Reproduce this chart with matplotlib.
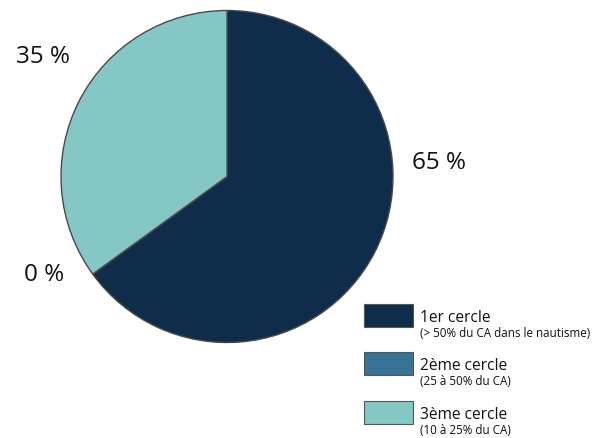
import matplotlib.pyplot as plt
from matplotlib.patches import Rectangle

plt.rcParams['font.family'] = ['Open Sans', 'DejaVu Sans']

categories = ['1er cercle', '2ème cercle', '3ème cercle']
subtitles = ['(> 50% du CA dans le nautisme)', '(25 à 50% du CA)', '(10 à 25% du CA)']
values = [65, 0, 35]
colors = ['#0f2d4a', '#367394', '#85c7c5']

W, H = 599, 439
fig = plt.figure(figsize=(W / 100, H / 100), dpi=100)

# pie axes placed in pixels: centre (227, 177.5) from top, radius 166
cx, cy, r = 227, H - 177.5, 166
ax = fig.add_axes([(cx - r) / W, (cy - r) / H, 2 * r / W, 2 * r / H])
ax.pie(values, colors=colors, startangle=90, counterclock=False,
       wedgeprops=dict(edgecolor='#4a4a4a', linewidth=1))
ax.set_xlim(-1, 1)
ax.set_ylim(-1, 1)
ax.set_aspect('equal')

# percentage labels
label_pos = [(1.28, 0.087), (-1.10, -0.59), (-1.11, 0.726)]
for v, (lx, ly) in zip(values, label_pos):
    ax.text(lx, ly, f'{v} %', fontsize=17.5, ha='center', va='center',
            color='#111111', clip_on=False)

# legend
box_x, box_w, box_h = 364, 49, 23
box_tops = [305, 353, 402]
for cat, sub, col, top in zip(categories, subtitles, colors, box_tops):
    fig.patches.append(Rectangle((box_x / W, (H - top - box_h) / H), box_w / W, box_h / H,
                                 transform=fig.transFigure, facecolor=col,
                                 edgecolor='#555555', linewidth=0.8))
    fig.text(420 / W, (H - top - 13) / H, cat, fontsize=11.2, va='center', color='#111111')
    fig.text(420 / W, (H - top - 29) / H, sub, fontsize=8.4, va='center', color='#111111')

fig.savefig('out.png', dpi=100)
